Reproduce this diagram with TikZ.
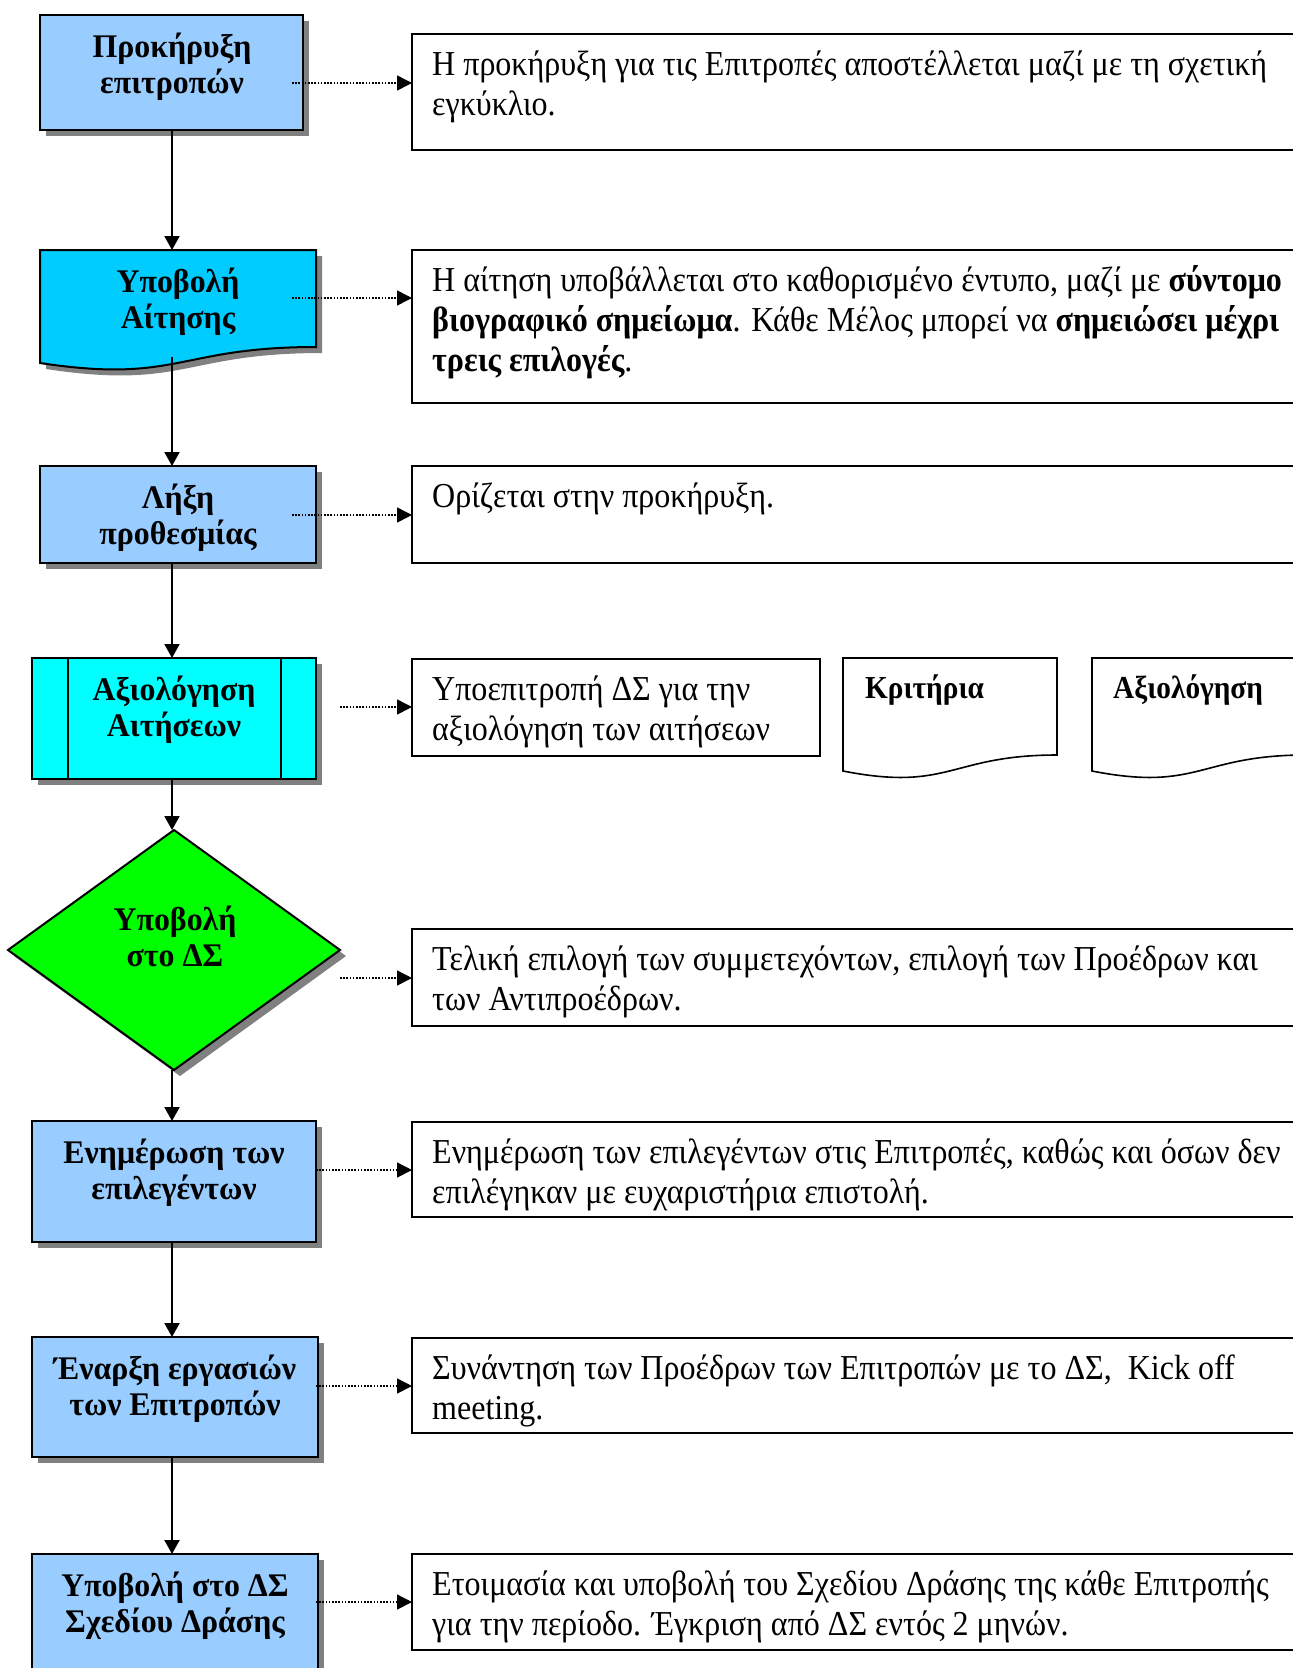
\documentclass[tikz,border=0pt]{standalone}
\usepackage{fontspec}
\setmainfont{Liberation Serif}
\newfontfamily\rtf{Liberation Serif}[FakeStretch=0.915]
\newfontfamily\ltf{Liberation Serif}[FakeStretch=0.965]
\usetikzlibrary{arrows.meta,shapes.geometric,shadows,calc}
\definecolor{lblue}{HTML}{99CCFF}
\definecolor{mblue}{HTML}{00CCFF}
\definecolor{cyanb}{HTML}{00FFFF}
\definecolor{greenb}{HTML}{00FF00}
\definecolor{shadowgray}{HTML}{808080}
\newcommand\myLS{\rule{0pt}{28pt}}
\newcommand\myRS{\rule{0pt}{30pt}}
\tikzset{
 shd/.style={drop shadow={shadow xshift=6pt, shadow yshift=-6pt, fill=shadowgray, opacity=1}},
 lbox/.style={draw=black, line width=2pt, shd, inner sep=0pt, outer sep=0pt, anchor=north west},
 rbox/.style={draw=black, line width=2pt, fill=white, inner sep=0pt, outer sep=0pt, anchor=north west},
 docshape/.style={draw=black, line width=2pt},
 ltxt/.style={inner sep=0pt, anchor=north, align=center, font=\ltf\bfseries\fontsize{33}{36}\selectfont},
 rtxt/.style={inner sep=0pt, anchor=north west, align=left, font=\rtf\fontsize{35}{40}\selectfont},
 ktxt/.style={inner sep=0pt, anchor=north west, font=\rtf\bfseries\fontsize{32}{40}\selectfont},
 conn/.style={line width=2pt, -{Triangle[width=15pt,length=14pt]}},
 dotarrow/.style={line width=1.5pt, dash pattern=on 1.6pt off 1.6pt, -{Triangle[width=15pt,length=15pt]}},
}
\begin{document}
\begin{tikzpicture}[x=1pt,y=-1pt]
\useasboundingbox (0,0) rectangle (1293,1668);
\begin{scope}
\clip (0,0) rectangle (1293,1668);
\fill[white] (0,0) rectangle (1293,1668);

% left column shapes
\node[lbox, fill=lblue, minimum width=263pt, minimum height=115pt] (b1) at (40,15) {};
\path[docshape, fill=mblue, shd] (40,250) -- (316,250) -- (316,347) .. controls (178,347) and (178,384) .. (40,363) -- cycle;
\coordinate (b2n) at (172,250);
\coordinate (b2s) at (172,357);
\node[lbox, fill=lblue, minimum width=276pt, minimum height=97pt] (b3) at (40,466) {};
\node[lbox, fill=cyanb, minimum width=284pt, minimum height=121pt] (b4) at (32,658) {};
\draw[line width=2pt] (68,658) -- (68,779) (281,658) -- (281,779);
\node[diamond, draw=black, line width=2pt, fill=greenb, shd, minimum width=332pt, minimum height=240pt, inner sep=0pt, outer sep=0pt] (d5) at (174,950) {};
\node[lbox, fill=lblue, minimum width=284pt, minimum height=121pt] (b6) at (32,1121) {};
\node[lbox, fill=lblue, minimum width=286pt, minimum height=120pt] (b7) at (32,1337) {};
\node[lbox, fill=lblue, minimum width=286pt, minimum height=140pt] (b8) at (32,1554) {};

% left texts
\node[ltxt] (t1) at (172,29) {\myLS Προκήρυξη\\επιτροπών};
\node[ltxt] (t2) at (178,264) {\myLS Υποβολή\\Αίτησης};
\node[ltxt] (t3) at (178,480) {\myLS Λήξη\\προθεσμίας};
\node[ltxt] (t4) at (174,672) {\myLS Αξιολόγηση\\Αιτήσεων};
\node[ltxt] (t5) at (175,902) {\myLS Υποβολή\\στο ΔΣ};
\node[ltxt] (t6) at (174,1135) {\myLS Ενημέρωση των\\επιλεγέντων};
\node[ltxt] (t7) at (175,1351) {\myLS Έναρξη εργασιών\\των Επιτροπών};
\node[ltxt] (t8) at (175,1568) {\myLS Υποβολή στο ΔΣ\\Σχεδίου Δράσης};

% right boxes
\node[rbox, minimum width=900pt, minimum height=116pt] (r1) at (412,34) {};
\node[rbox, minimum width=900pt, minimum height=153pt] (r2) at (412,250) {};
\node[rbox, minimum width=900pt, minimum height=97pt] (r3) at (412,466) {};
\node[rbox, minimum width=408pt, minimum height=97pt] (r4) at (412,659) {};
\node[rbox, minimum width=900pt, minimum height=97pt] (r5) at (412,929) {};
\node[rbox, minimum width=900pt, minimum height=95pt] (r6) at (412,1122) {};
\node[rbox, minimum width=900pt, minimum height=95pt] (r7) at (412,1338) {};
\node[rbox, minimum width=900pt, minimum height=96pt] (r8) at (412,1554) {};
\path[draw=black, line width=1.6pt, fill=white] (843,658) -- (1057,658) -- (1057,755) .. controls (950,755) and (950,792) .. (843,771) -- cycle;
\path[draw=black, line width=1.6pt, fill=white] (1092,658) -- (1306,658) -- (1306,755) .. controls (1199,755) and (1199,792) .. (1092,771) -- cycle;

% right texts
\node[rtxt] (u1) at (432,45) {\myRS Η προκήρυξη για τις Επιτροπές αποστέλλεται μαζί με τη σχετική\\εγκύκλιο.};
\node[rtxt] (u2) at (432,261) {\myRS Η αίτηση υποβάλλεται στο καθορισμένο έντυπο, μαζί με \textbf{σύντομο}\\\textbf{βιογραφικό σημείωμα}. Κάθε Μέλος μπορεί να \textbf{σημειώσει μέχρι}\\\textbf{τρεις επιλογές}.};
\node[rtxt] (u3) at (432,477) {\myRS Ορίζεται στην προκήρυξη.};
\node[rtxt] (u4) at (432,670) {\myRS Υποεπιτροπή ΔΣ για την\\αξιολόγηση των αιτήσεων};
\node[ktxt] (k1) at (865,668) {\myRS Κριτήρια};
\node[ktxt] (k2) at (1113,668) {\myRS Αξιολόγηση};
\node[rtxt] (u5) at (432,940) {\myRS Τελική επιλογή των συμμετεχόντων, επιλογή των Προέδρων και\\των Αντιπροέδρων.};
\node[rtxt] (u6) at (432,1133) {\myRS Ενημέρωση των επιλεγέντων στις Επιτροπές, καθώς και όσων δεν\\επιλέγηκαν με ευχαριστήρια επιστολή.};
\node[rtxt] (u7) at (432,1349) {\myRS Συνάντηση των Προέδρων των Επιτροπών με το ΔΣ,\ \ Kick off\\meeting.};
\node[rtxt] (u8) at (432,1565) {\myRS Ετοιμασία και υποβολή του Σχεδίου Δράσης της κάθε Επιτροπής\\για την περίοδο. Έγκριση από ΔΣ εντός 2 μηνών.};

% vertical connectors
\coordinate (ax) at (172,0);
\draw[conn] (b1.south -| ax) -- (b2n);
\draw[conn] (b2s) -- (b3.north -| ax);
\draw[conn] (b3.south -| ax) -- (b4.north -| ax);
\draw[conn] (b4.south -| ax) -- (d5.north -| ax);
\draw[conn] (d5.south -| ax) -- (b6.north -| ax);
\draw[conn] (b6.south -| ax) -- (b7.north -| ax);
\draw[conn] (b7.south -| ax) -- (b8.north -| ax);

% dotted connectors
\coordinate (s1) at (292,83);
\coordinate (s2) at (292,298);
\coordinate (s3) at (292,515);
\coordinate (s4) at (340,707);
\coordinate (s5) at (340,978);
\coordinate (s6) at (316,1170);
\coordinate (s7) at (316,1386);
\coordinate (s8) at (316,1602);
\draw[dotarrow] (s1) -- (s1 -| r1.west);
\draw[dotarrow] (s2) -- (s2 -| r2.west);
\draw[dotarrow] (s3) -- (s3 -| r3.west);
\draw[dotarrow] (s4) -- (s4 -| r4.west);
\draw[dotarrow] (s5) -- (s5 -| r5.west);
\draw[dotarrow] (s6) -- (s6 -| r6.west);
\draw[dotarrow] (s7) -- (s7 -| r7.west);
\draw[dotarrow] (s8) -- (s8 -| r8.west);
\end{scope}
\end{tikzpicture}
\end{document}
